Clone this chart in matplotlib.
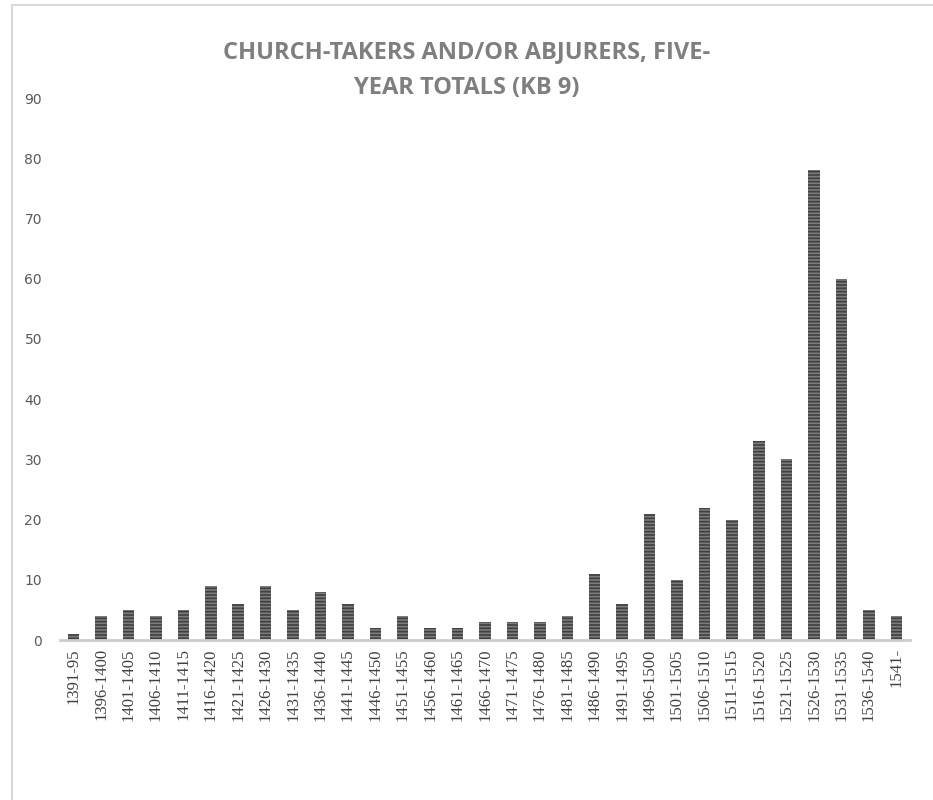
import matplotlib.pyplot as plt
from matplotlib.lines import Line2D

periods = ["1391-95", "1396-1400", "1401-1405", "1406-1410", "1411-1415",
           "1416-1420", "1421-1425", "1426-1430", "1431-1435", "1436-1440",
           "1441-1445", "1446-1450", "1451-1455", "1456-1460", "1461-1465",
           "1466-1470", "1471-1475", "1476-1480", "1481-1485", "1486-1490",
           "1491-1495", "1496-1500", "1501-1505", "1506-1510", "1511-1515",
           "1516-1520", "1521-1525", "1526-1530", "1531-1535", "1536-1540",
           "1541-"]
totals = [1, 4, 5, 4, 5, 9, 6, 9, 5, 8, 6, 2, 4, 2, 2, 3, 3, 3, 4, 11,
          6, 21, 10, 22, 20, 33, 30, 78, 60, 5, 4]

plt.rcParams["hatch.linewidth"] = 1.2
plt.rcParams["hatch.color"] = "#404040"

fig = plt.figure(figsize=(9.33, 8), dpi=100)
ax = fig.add_axes([60 / 933, 1 - 640 / 800, 850 / 933, (640 - 98) / 800])

x = range(len(periods))
ax.bar(x, totals, width=0.42, color="#7c7c7c", linewidth=0, hatch="-----")

ax.set_xlim(-0.5, len(periods) - 0.5)
ax.set_ylim(0, 90)
ax.set_yticks(range(0, 91, 10))
ax.set_xticks(list(x))
ax.set_xticklabels(periods, rotation=90, family="Liberation Serif",
                   fontsize=12, color="#404040")
ax.tick_params(axis="y", length=0, labelsize=10, labelcolor="#595959", pad=13)
ax.tick_params(axis="x", length=0, pad=6)
for s in ["top", "right", "left"]:
    ax.spines[s].set_visible(False)
ax.spines["bottom"].set_color("#cccccc")
ax.spines["bottom"].set_linewidth(2)

fig.text(0.5, 1 - 70 / 800, "CHURCH-TAKERS AND/OR ABJURERS, FIVE-\nYEAR TOTALS (KB 9)",
         ha="center", va="center", fontsize=17, fontweight="bold",
         family="Open Sans", color="#7f7f7f", linespacing=1.65)

# light frame at top and left edges
fig.add_artist(Line2D([11.5 / 933, 11.5 / 933], [0, 1 - 5 / 800],
                      color="#d9d9d9", linewidth=1.5))
fig.add_artist(Line2D([11.5 / 933, 1], [1 - 5 / 800, 1 - 5 / 800],
                      color="#d9d9d9", linewidth=1.5))

plt.savefig("out.png")
